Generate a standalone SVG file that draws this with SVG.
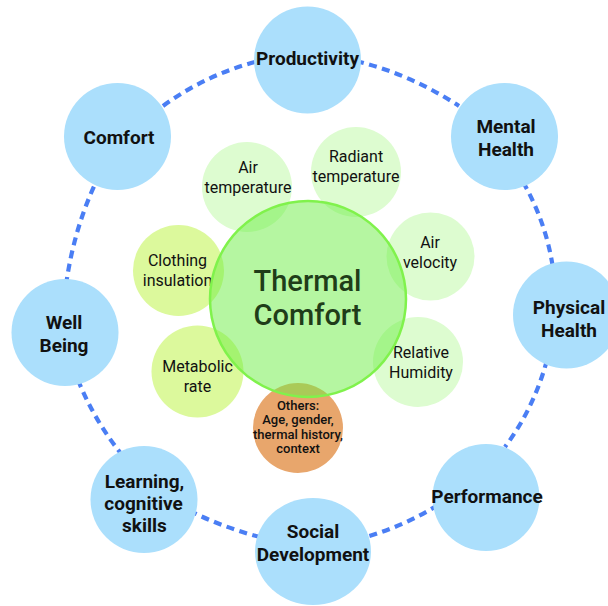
<svg xmlns="http://www.w3.org/2000/svg" width="608" height="606" viewBox="0 0 608 606">
<style>
  .outer { fill: #abdffc; }
  .lt { fill: #ddfcd0; }
  .yg { fill: #dcf99c; }
  .or { fill: #e8a66c; }
  .conn { fill: none; stroke: #4a7ef4; stroke-width: 4.2; stroke-dasharray: 8 5.5; }
  .ot { font-family: Roboto, "Liberation Sans", Arial, sans-serif; font-size: 19px; font-weight: 700; fill: #111; text-anchor: middle; }
  .it { font-family: Roboto, "Liberation Sans", Arial, sans-serif; font-size: 16px; font-weight: 400; fill: #111; text-anchor: middle; }
  .st { font-family: Roboto, "Liberation Sans", Arial, sans-serif; font-size: 13px; font-weight: 500; fill: #111; text-anchor: middle; }
  .tt { font-family: Roboto, "Liberation Sans", Arial, sans-serif; font-size: 29px; font-weight: 500; fill: #1f3d19; text-anchor: middle; }
</style>
<rect width="608" height="606" fill="#ffffff"/>
<g id="connectors">
  <path class="conn" d="M163,106 Q207,74 259,61"/>
  <path class="conn" d="M356,61 Q410,74 459,106"/>
  <path class="conn" d="M523,182 Q546,222 553,268"/>
  <path class="conn" d="M547,360 Q534,408 505,447"/>
  <path class="conn" d="M438,505 Q404,526 366,537"/>
  <path class="conn" d="M260,537 Q225,528 192,512"/>
  <path class="conn" d="M123,456 Q95,422 78,380"/>
  <path class="conn" d="M66,285 Q74,228 97,180"/>
</g>
<g id="productivity">
  <circle class="outer" cx="307.5" cy="60" r="53.5"/>
  <text class="ot" x="307.5" y="65">Productivity</text>
</g>
<g id="comfort">
  <circle class="outer" cx="117.5" cy="136.5" r="53.5"/>
  <text class="ot" x="119" y="144">Comfort</text>
</g>
<g id="mental-health">
  <circle class="outer" cx="504.5" cy="136.5" r="53.5"/>
  <text class="ot" x="506" y="133">Mental</text>
  <text class="ot" x="506" y="156">Health</text>
</g>
<g id="physical-health">
  <circle class="outer" cx="566.5" cy="315" r="53.5"/>
  <text class="ot" x="569" y="314">Physical</text>
  <text class="ot" x="569" y="337">Health</text>
</g>
<g id="performance">
  <circle class="outer" cx="486" cy="497.5" r="53.5"/>
  <text class="ot" x="487" y="503">Performance</text>
</g>
<g id="social-development">
  <ellipse class="outer" cx="313" cy="551.5" rx="58" ry="53.5"/>
  <text class="ot" x="313" y="538">Social</text>
  <text class="ot" x="313" y="561">Development</text>
</g>
<g id="learning">
  <circle class="outer" cx="144" cy="499.5" r="53.5"/>
  <text class="ot" x="144.5" y="488">Learning,</text>
  <text class="ot" x="143.5" y="510">cognitive</text>
  <text class="ot" x="144.5" y="532">skills</text>
</g>
<g id="well-being">
  <circle class="outer" cx="65" cy="332.5" r="53.5"/>
  <text class="ot" x="64" y="329">Well</text>
  <text class="ot" x="64" y="352">Being</text>
</g>
<g id="air-temperature">
  <circle class="lt" cx="247" cy="187" r="45"/>
  <text class="it" x="248" y="173">Air</text>
  <text class="it" x="248" y="193">temperature</text>
</g>
<g id="radiant-temperature">
  <circle class="lt" cx="356" cy="172" r="45"/>
  <text class="it" x="356" y="162">Radiant</text>
  <text class="it" x="356" y="182">temperature</text>
</g>
<g id="air-velocity">
  <circle class="lt" cx="430.5" cy="256.5" r="44"/>
  <text class="it" x="430" y="248">Air</text>
  <text class="it" x="430" y="268">velocity</text>
</g>
<g id="relative-humidity">
  <circle class="lt" cx="418" cy="362" r="45"/>
  <text class="it" x="421" y="358">Relative</text>
  <text class="it" x="421" y="378">Humidity</text>
</g>
<g id="clothing-insulation">
  <circle class="yg" cx="178.5" cy="270.5" r="45.5"/>
  <text class="it" x="177.5" y="265.5">Clothing</text>
  <text class="it" x="177.5" y="285.5">insulation</text>
</g>
<g id="metabolic-rate">
  <circle class="yg" cx="197.5" cy="371.5" r="46"/>
  <text class="it" x="197.5" y="372">Metabolic</text>
  <text class="it" x="197.5" y="392">rate</text>
</g>
<g id="others">
  <circle class="or" cx="298" cy="428" r="45"/>
  <text class="st" x="298" y="410">Others:</text>
  <text class="st" x="298" y="424.3">Age, gender,</text>
  <text class="st" x="298" y="438.5">thermal history,</text>
  <text class="st" x="298" y="452.7">context</text>
</g>
<g id="thermal-comfort">
  <circle cx="308" cy="299" r="98" fill="#6bee44" fill-opacity="0.5" stroke="#80f24c" stroke-width="2.5"/>
  <text class="tt" x="307.5" y="291">Thermal</text>
  <text class="tt" x="307.5" y="325">Comfort</text>
</g>
</svg>
